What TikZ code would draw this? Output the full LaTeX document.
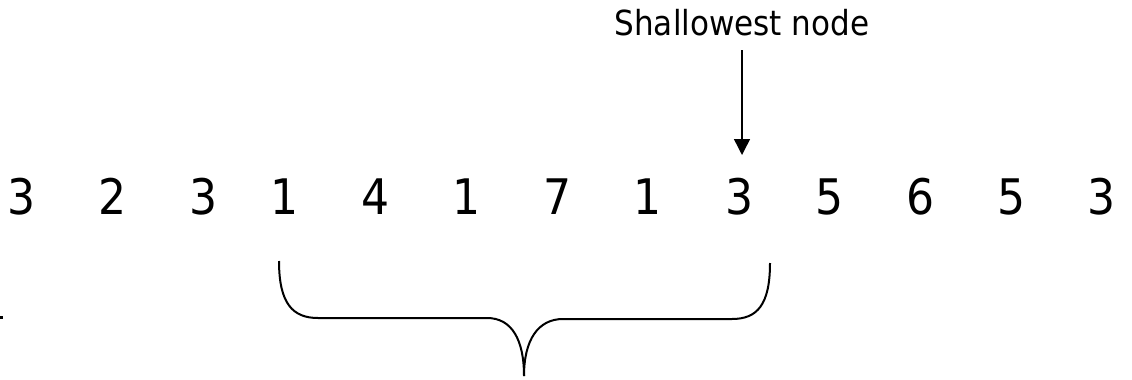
\documentclass[tikz,border=0pt]{standalone}
\usepackage{fontspec}
\setmainfont{DejaVu Sans}[FakeStretch=0.9]
\usetikzlibrary{arrows.meta}
\begin{document}
\begin{tikzpicture}[x=1pt,y=-1pt,
  digit/.style={anchor=base,inner sep=0pt,font=\fontsize{49}{50}\selectfont},
  caption/.style={anchor=base,inner sep=0pt,font=\fontsize{34.5}{36}\selectfont},
  pointer/.style={line width=1.5pt,-{Triangle[width=16pt,length=16pt]}},
  bracepath/.style={line width=2pt}]
\useasboundingbox (0,0) rectangle (1132,380);
% the sequence of values
\foreach \v/\x [count=\i] in {3/22,2/113,3/204,1/285,4/376,1/467,7/558,1/648,3/740,5/830,6/921,5/1012,3/1102}
  \node[digit] (d\i) at (\x,214) {\v};
% label and its pointer to the shallowest node
\node[caption] (lbl) at (742,35) {Shallowest node};
\coordinate (ptop) at (742,50);
\coordinate (ptip) at (742,155);
\draw[pointer] (ptop) -- (ptip);
% brace under the window of values
\coordinate (bl) at (279,261);
\coordinate (bm) at (524,376);
\coordinate (br) at (770,263);
\draw[bracepath] (bl) .. controls (279,304) and (293,318) .. (318,318)
  -- (487,318) .. controls (512,318) and (524,340) .. (bm);
\draw[bracepath] (bm) .. controls (524,340) and (538,319) .. (563,319)
  -- (732,319) .. controls (757,319) and (770,305) .. (br);
% small mark at the left edge
\fill (0,315.5) rectangle (2.5,318.5);
\end{tikzpicture}
\end{document}
